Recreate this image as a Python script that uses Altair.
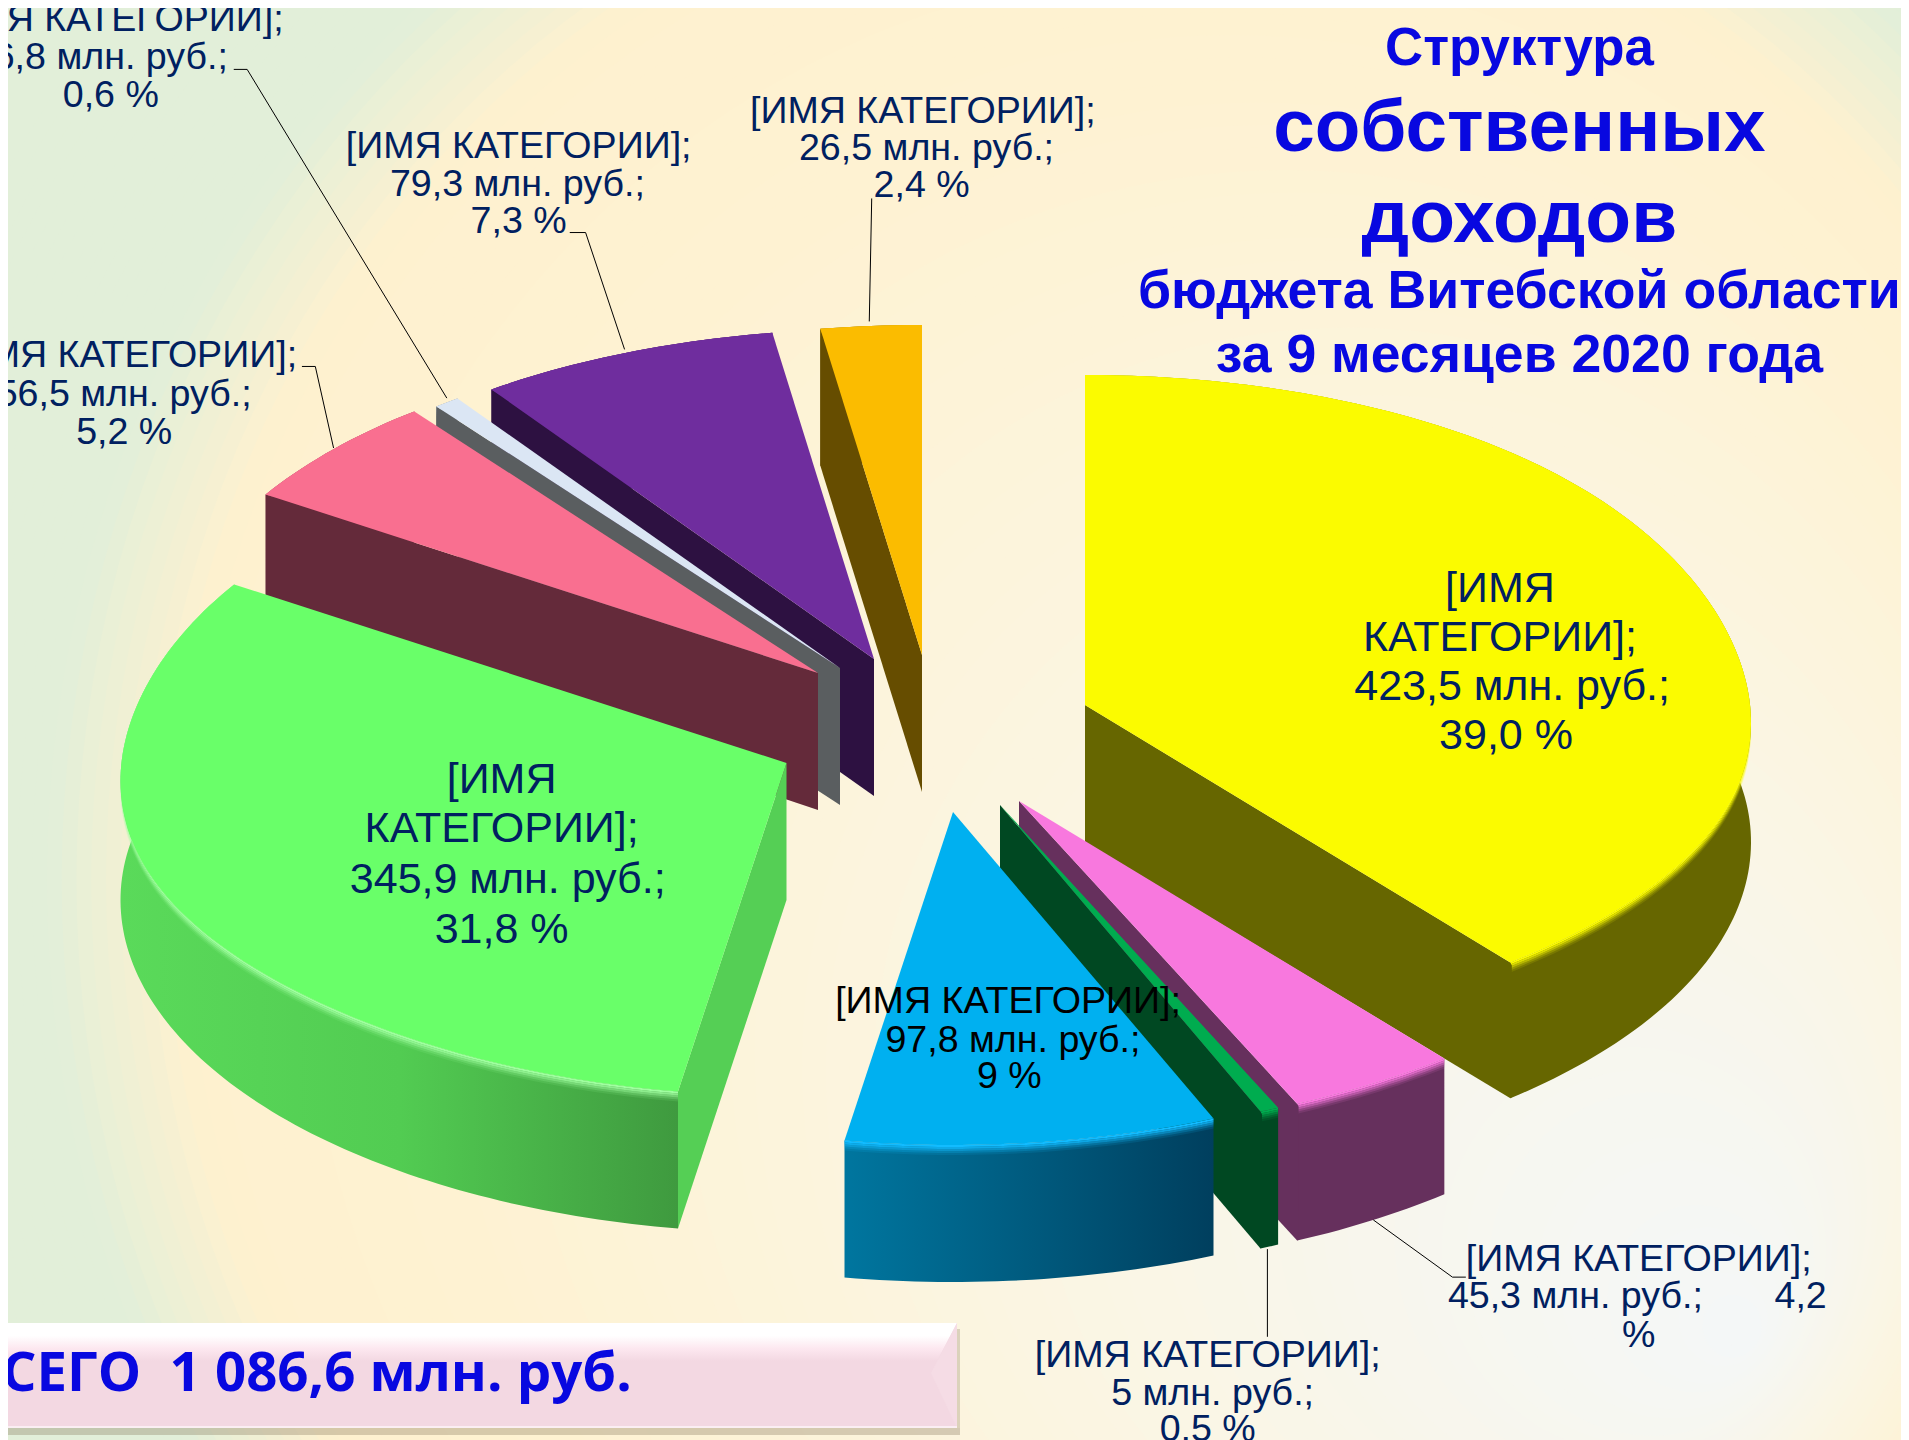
import math
import altair as alt

# ---------- values ----------
values = [423.5, 45.3, 5.0, 97.8, 345.9, 56.5, 6.8, 79.3, 26.5]
percents = ["39,0", "4,2", "0,5", "9", "31,8", "5,2", "0,6", "7,3", "2,4"]
category = "[ИМЯ КАТЕГОРИИ];"
amounts = [("%g" % v).replace(".", ",") + " млн. руб.;" for v in values]
total_text = "ВСЕГО\u00a0 1 086,6 млн. руб."
title_lines = ["Структура", "собственных", "доходов", "бюджета Витебской области", "за 9 месяцев 2020 года"]

# ---------- styles ----------
top_cols = ["#fbfb00", "#f878de", "#00ac4f", "#00b0f0", "#69ff69", "#f96f90", "#dbe6f4", "#6f2d9e", "#fbbc00"]
wall_cols = ["#666600", "#66305d", "#004822", "#005a80", "#55cf55", "#642a3a", "#5a5e60", "#2d1141", "#664d00"]
rim_cols = ["#fbfb00", "#f878de", "#00ac4f", "#12bcff", "#a0ffa0", "#f96f90", "#dbe6f4", "#6f2d9e", "#fbbc00"]
wall_grad = {3: ["#00769f", "#003f5e"], 4: ["#5ada5a", "#52cc52", "#3f9a3f"]}
apex_x = [1085, 1019, 1000, 953, 786.5, 818, 840, 874, 922]
apex_y = [705, 801, 805, 812, 763, 673, 668, 659, 655]
draw_order = [8, 7, 6, 5, 4, 0, 1, 2, 3]
RX, RY_TOP, RY_BOT, DEPTH, BULGE = 666, 330, 333, 137, 18
S = 1909 / 1568
W, H = 1893, 1432
OFF = 8
TEXT_DY = 2


def feat(pts, fill, op=1.0):
    ring = [[round(x - OFF, 2), round(y - OFF, 2)] for x, y in pts]
    ring.append(ring[0])
    return {"type": "Feature", "geometry": {"type": "Polygon", "coordinates": [ring]},
            "properties": {"fill": fill, "o": op}}


def pt(ax, ay, a, off=0):
    r = math.radians(a)
    c = math.cos(r)
    u = math.sin(r)
    return (ax + RX * u, ay + off - (RY_TOP if c > 0 else RY_BOT) * c + BULGE * (1 - off / DEPTH) * u ** 6)


def arc(ax, ay, a0, a1, off=0):
    n = max(2, int((a1 - a0) / 1.0))
    return [pt(ax, ay, a0 + (a1 - a0) * i / n, off) for i in range(n + 1)]


def hexmix(c1, c2, t):
    a = [int(c1[i:i + 2], 16) for i in (1, 3, 5)]
    b = [int(c2[i:i + 2], 16) for i in (1, 3, 5)]
    return "#%02x%02x%02x" % tuple(round(p + (q - p) * t) for p, q in zip(a, b))


proj = dict(type="identity", scale=1, translate=[0, 0])


def solid_layer(features):
    return (alt.Chart(alt.Data(values=features)).mark_geoshape(strokeWidth=0)
            .encode(fill=alt.Fill("properties.fill:N", scale=None),
                    opacity=alt.Opacity("properties.o:Q", scale=None))
            .project(**proj))


def grad_layer(features, stops, horizontal=True):
    n = len(stops) - 1
    g = alt.Gradient(gradient="linear",
                     stops=[alt.GradientStop(color=c, offset=i / n) for i, c in enumerate(stops)],
                     x1=0, y1=0, x2=1 if horizontal else 0, y2=0 if horizontal else 1)
    return alt.Chart(alt.Data(values=features)).mark_geoshape(fill=g, strokeWidth=0).project(**proj)


layers = []

# ---------- background: nested ellipses ----------
bg_stops = [(0.0, "#f4f7f8"), (0.4, "#faf6e6"), (0.85, "#fef2d2"), (1.0, "#fef1cf"), (1.13, "#e2efd9"), (2.2, "#e2efd9")]
c0, c1 = (1750, 1340), (1155, 880)
bg = [feat([(0, 0), (1909, 0), (1909, 1440), (0, 1440)], "#e2efd9")]
steps = 90
for k in range(steps, 0, -1):
    t = 1.35 * k / steps
    u = min(t, 1)
    cx = c0[0] + (c1[0] - c0[0]) * u
    cy = c0[1] + (c1[1] - c0[1]) * u
    col = bg_stops[-1][1]
    for (a, ca), (b, cb) in zip(bg_stops, bg_stops[1:]):
        if a <= t <= b:
            col = hexmix(ca, cb, (t - a) / (b - a))
            break
    poly = [(cx + 985 * t * math.cos(i * math.pi / 90), cy + 1040 * t * math.sin(i * math.pi / 90)) for i in range(180)]
    poly = [(min(max(x, -30), 1940), min(max(y, -30), 1470)) for x, y in poly]
    bg.append(feat(poly, col))
layers.append(solid_layer(bg))

# ---------- 3D pie ----------
total = sum(values)
angles = [0]
for v in values:
    angles.append(angles[-1] + 360 * v / total)

buf = []


def flush():
    global buf
    if buf:
        layers.append(solid_layer(buf))
        buf = []


for i in draw_order:
    a0, a1 = angles[i], angles[i + 1]
    ax, ay = apex_x[i], apex_y[i]
    top_arc = arc(ax, ay, a0, a1)
    outer = top_arc + arc(ax, ay, a0, a1, DEPTH)[::-1]
    if i in wall_grad:
        flush()
        layers.append(grad_layer([feat(outer, wall_cols[i])], wall_grad[i]))
    else:
        buf.append(feat(outer, wall_cols[i]))
    for s, op in zip(range(0, 10, 2), [1, 0.8, 0.55, 0.3, 0.12]):
        band = arc(ax, ay, a0, a1, s) + arc(ax, ay, a0, a1, s + 2)[::-1]
        buf.append(feat(band, rim_cols[i], op))
    if math.sin(math.radians(a0)) < -1e-6:
        p = pt(ax, ay, a0)
        q = pt(ax, ay, a0, DEPTH)
        buf.append(feat([(ax, ay), p, q, (ax, ay + DEPTH)], wall_cols[i]))
    if math.sin(math.radians(a1)) > 1e-6:
        p = pt(ax, ay, a1)
        q = pt(ax, ay, a1, DEPTH)
        # a small overlap hides the seam with the outer wall
        buf.append(feat([(ax, ay), p, (p[0] + 1.5, p[1] + 3), (q[0] + 1.5, q[1] - 1), q, (ax, ay + DEPTH)], wall_cols[i]))
    buf.append(feat([(ax, ay)] + top_arc, top_cols[i]))
flush()

# ---------- total panel ----------
PL, PR, PT, PB = 0, 957, 1323, 1428
layers.append(solid_layer([feat([(PL, PB), (PR + 3, PB), (PR + 3, PB + 7), (PL, PB + 7)], "#7a6a50", 0.3),
                           feat([(PR, PT + 6), (PR + 3, PT + 6), (PR + 3, PB), (PR, PB)], "#7a6a50", 0.25),
                           feat([(PL, PT), (PR, PT), (PR, PB), (PL, PB)], "#f3d8e2")]))
layers.append(grad_layer([feat([(PL, PT), (PR, PT), (PR - 20, PT + 38), (PL, PT + 38)], "#ffffff")],
                         ["#ffffff", "#ffffff", "#fde8f0", "#f3d8e2"], horizontal=False))
layers.append(solid_layer([feat([(PR, PT), (PR, PB), (PR - 26, PT + 50)], "#f5dce5"),
                           feat([(PL, PB - 2), (PR, PB - 2), (PR, PB), (PL, PB)], "#fbeef3")]))

# ---------- leader lines (reference shrunk coordinates) ----------
leaders = [
    [(192, 57), (203, 57), (367, 327)],
    [(468, 191), (481, 191), (513, 287)],
    [(248, 301), (259, 301), (274, 368)],
    [(716, 163), (714, 264)],
    [(1128, 1002), (1193, 1049), (1204, 1049)],
    [(1041, 1026), (1041, 1098)],
]
line_rows = []
for lid, ln in enumerate(leaders):
    for k, (x, y) in enumerate(ln):
        line_rows.append({"x": x * S - OFF, "y": y * S - OFF, "id": lid, "k": k})
layers.append(alt.Chart(alt.Data(values=line_rows)).mark_line(color="#000000", strokeWidth=1).encode(
    x=alt.X("x:Q", scale=None, axis=None), y=alt.Y("y:Q", scale=None, axis=None),
    detail="id:N", order="k:Q"))

# ---------- slice labels ----------
NAVY, BLACK = "#002060", "#000000"
SM, LG = 37.6, 43
rows = []


def lab(x, y, text, size, color=NAVY):
    rows.append({"x": x * S - OFF, "y": y * S - OFF + TEXT_DY, "t": text, "s": size, "c": color})


for x, y, t in [(1232, 482, "[ИМЯ"), (1232, 522, "КАТЕГОРИИ];"), (1242, 563, amounts[0]), (1237, 603, percents[0] + " %"),
                (412, 639, "[ИМЯ"), (412, 679, "КАТЕГОРИИ];"), (417, 721, amounts[4]), (412, 762, percents[4] + " %")]:
    lab(x, y, t, LG)
for x, y, t in [(828, 821, category), (832, 853, amounts[3]), (829, 883, percents[3] + " %")]:
    lab(x, y, t, SM, BLACK)
for x, y, t in [(758, 90, category), (761, 121, amounts[8]), (757, 151, percents[8] + " %"),
                (426, 119, category), (425, 150, amounts[7]), (426, 181, percents[7] + " %"),
                (91, 15, category), (91, 46, amounts[6]), (91, 77, percents[6] + " %"),
                (102, 291, category), (102, 323, amounts[5]), (102, 354, percents[5] + " %"),
                (1346, 1033, category), (1294, 1064, amounts[1]), (1479, 1064, percents[1]), (1346, 1096, "%"),
                (992, 1112, category), (996, 1143, amounts[2]), (992, 1173, percents[2] + " %")]:
    lab(x, y, t, SM)
enc = dict(x=alt.X("x:Q", scale=None, axis=None), y=alt.Y("y:Q", scale=None, axis=None), text="t:N",
           size=alt.Size("s:Q", scale=None), color=alt.Color("c:N", scale=None))
layers.append(alt.Chart(alt.Data(values=rows)).mark_text(font="Liberation Sans", align="center", baseline="middle").encode(**enc))

# ---------- titles ----------
rows_t = []
for text, y, s in zip(title_lines, [39, 104, 178, 238, 291], [52.8, 74.7, 75, 53.6, 53.6]):
    rows_t.append({"x": 1248 * S - OFF, "y": y * S - OFF + TEXT_DY, "t": text, "s": s, "c": "#0808e0"})
layers.append(alt.Chart(alt.Data(values=rows_t)).mark_text(font="Liberation Sans", fontWeight="bold", align="center", baseline="middle").encode(**enc))

rows_p = [{"x": 519 * S - OFF, "y": 1128 * S - OFF + TEXT_DY, "t": total_text, "s": 54.6, "c": "#0808e0"}]
layers.append(alt.Chart(alt.Data(values=rows_p)).mark_text(font="Open Sans", fontWeight="bold", align="right", baseline="middle").encode(**enc))

chart = (alt.layer(*layers)
         .properties(width=W, height=H, padding=0, autosize=alt.AutoSizeParams(type="none"))
         .configure_view(strokeWidth=0))
chart.save("out.html", embed_options={"renderer": "svg", "actions": False})
